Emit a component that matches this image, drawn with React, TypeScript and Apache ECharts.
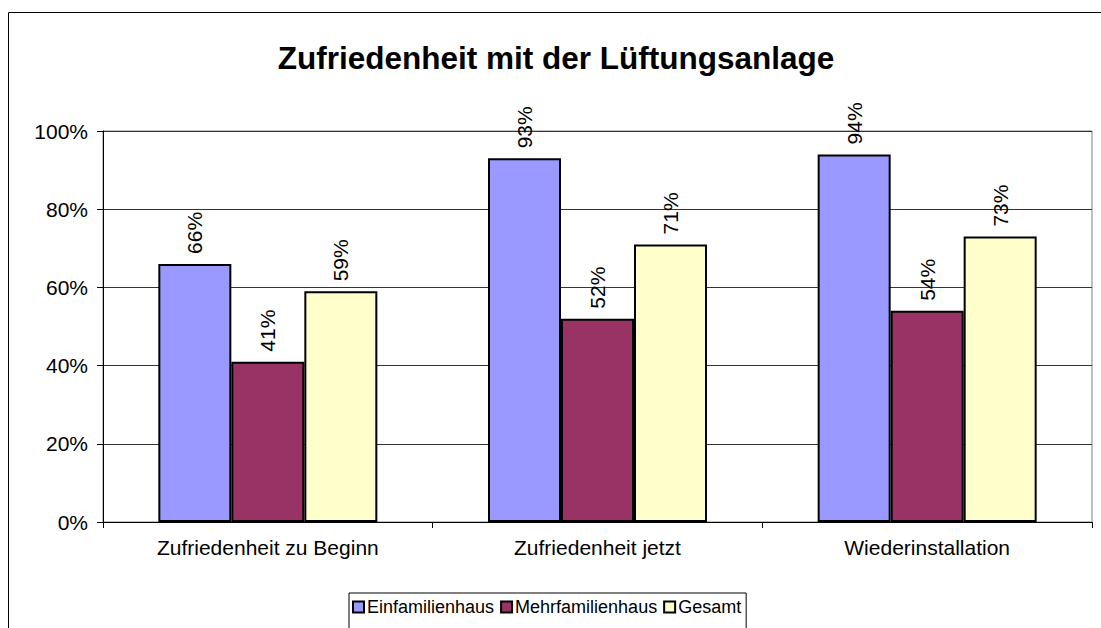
import React, { useEffect, useRef } from "react";
import * as echarts from "echarts";

const categories = ["Zufriedenheit zu Beginn", "Zufriedenheit jetzt", "Wiederinstallation"];
const seriesNames = ["Einfamilienhaus", "Mehrfamilienhaus", "Gesamt"];
const einfamilienhaus = [66, 93, 94];
const mehrfamilienhaus = [41, 52, 54];
const gesamt = [59, 71, 73];
const colors = ["#9999FF", "#993366", "#FFFFCC"];
const titleText = "Zufriedenheit mit der Lüftungsanlage";

export default function App() {
  const ref = useRef<HTMLDivElement>(null);
  useEffect(() => {
    if (!ref.current) return;
    const chart = echarts.init(ref.current, null, { renderer: "svg" });
    const values = [einfamilienhaus, mehrfamilienhaus, gesamt];
    const font = "Arial, 'Liberation Sans', sans-serif";
    chart.setOption({
      animation: false,
      backgroundColor: "#ffffff",
      textStyle: { fontFamily: font },
      title: {
        text: titleText,
        left: 551,
        top: 37,
        textAlign: "center",
        textStyle: { fontSize: 31.5, fontWeight: "bold", color: "#000", fontFamily: font },
      },
      graphic: [
        {
          type: "rect",
          shape: { x: 8.5, y: 12.5, width: 1200, height: 700 },
          style: { fill: "none", stroke: "#000", lineWidth: 1 },
          silent: true,
          z: -10,
        },
      ],
      legend: {
        data: seriesNames,
        left: 349,
        top: 593,
        itemWidth: 11,
        itemHeight: 11,
        itemGap: 6,
        padding: [5, 5, 20, 3],
        borderColor: "#000",
        borderWidth: 1,
        textStyle: { fontSize: 18, color: "#000", fontFamily: font, padding: [0, 0, 0, -2] },
        icon: "rect",
      },
      grid: {
        left: 103,
        top: 131,
        right: 9,
        bottom: 106,
        show: true,
        borderColor: "#808080",
        borderWidth: 1,
        containLabel: false,
      },
      xAxis: {
        type: "category",
        data: categories,
        axisLine: { lineStyle: { color: "#000", width: 1 } },
        axisTick: { show: true, length: 6, lineStyle: { color: "#000" } },
        axisLabel: { fontSize: 21, color: "#000", margin: 15, fontFamily: font },
      },
      yAxis: {
        type: "value",
        min: 0,
        max: 100,
        interval: 20,
        axisLine: { show: true, lineStyle: { color: "#000", width: 1 } },
        axisTick: { show: true, length: 6, lineStyle: { color: "#000" } },
        axisLabel: { fontSize: 21, color: "#000", margin: 15, formatter: "{value}%", fontFamily: font },
        splitLine: { show: true, lineStyle: { color: "#333333", width: 1 } },
      },
      series: seriesNames.map((name, i) => ({
        name,
        type: "bar",
        data: values[i],
        barWidth: 73,
        barGap: "0%",
        itemStyle: { color: colors[i], borderColor: "#000", borderWidth: 2 },
        label: {
          show: true,
          position: "top",
          rotate: 90,
          align: "left",
          verticalAlign: "middle",
          distance: 10,
          fontSize: 21,
          color: "#000",
          fontFamily: font,
          formatter: (p: any) => `${Math.round(p.value)}%`,
        },
      })),
    });
    return () => chart.dispose();
  }, []);
  return (
    <div
      ref={ref}
      style={{ position: "fixed", left: 0, top: 0, width: 1101, height: 628 }}
    />
  );
}
